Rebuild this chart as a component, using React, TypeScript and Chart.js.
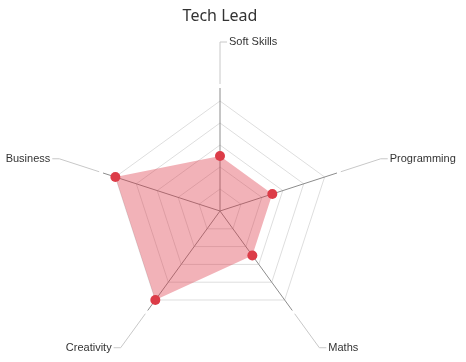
import React, { useEffect, useRef } from "react";
import { Chart, registerables } from "chart.js";
Chart.register(...registerables);

const TITLE = "Tech Lead";
const categories = ["Soft Skills", "Programming", "Maths", "Creativity", "Business"];
const values = [5, 5, 5, 10, 10];
const scaleMax = 10;
const scaleStep = 2;

const radarDecor = {
  id: "radarDecor",
  beforeDatasetsDraw(chart: any) {
    const scale = chart.scales.r;
    const ctx = chart.ctx;
    const n = chart.data.labels.length;
    const outer = scale.drawingArea + 13;
    ctx.save();
    ctx.strokeStyle = "#8c8c8c";
    ctx.lineWidth = 1;
    for (let i = 0; i < n; i++) {
      const p = scale.getPointPosition(i, outer);
      ctx.beginPath();
      ctx.moveTo(scale.xCenter, scale.yCenter);
      ctx.lineTo(p.x, p.y);
      ctx.stroke();
    }
    ctx.restore();
  },
  afterDraw(chart: any) {
    const scale = chart.scales.r;
    const ctx = chart.ctx;
    const labels: string[] = chart.data.labels;
    const r0 = scale.drawingArea + 17;
    const r1 = scale.drawingArea + 59;
    ctx.save();
    ctx.strokeStyle = "#c8c8c8";
    ctx.lineWidth = 1;
    ctx.font = "11px Arial, 'Liberation Sans', sans-serif";
    ctx.fillStyle = "#333";
    ctx.textBaseline = "middle";
    labels.forEach((lab, i) => {
      const a = scale.getPointPosition(i, r0);
      const b = scale.getPointPosition(i, r1);
      const dir = b.x >= scale.xCenter - 0.5 ? 1 : -1;
      const c = { x: b.x + dir * 7, y: b.y };
      ctx.beginPath();
      ctx.moveTo(a.x, a.y);
      ctx.lineTo(b.x, b.y);
      ctx.lineTo(c.x, c.y);
      ctx.stroke();
      ctx.textAlign = dir > 0 ? "left" : "right";
      ctx.fillText(lab, c.x + dir * 2, c.y);
    });
    ctx.font = "16px 'Noto Sans', sans-serif";
    ctx.fillStyle = "#333";
    ctx.textAlign = "center";
    ctx.textBaseline = "middle";
    ctx.fillText(TITLE, 220, 16);
    ctx.restore();
  },
};

export default function App() {
  const ref = useRef<HTMLCanvasElement>(null);
  useEffect(() => {
    if (!ref.current) return;
    const chart = new Chart(ref.current, {
      type: "radar",
      data: {
        labels: categories,
        datasets: [
          {
            label: TITLE,
            data: values,
            fill: true,
            backgroundColor: "rgba(220,53,69,0.38)",
            borderColor: "transparent",
            borderWidth: 0,
            pointRadius: 5,
            pointBackgroundColor: "rgb(220,60,72)",
            pointBorderColor: "transparent",
            pointBorderWidth: 0,
          },
        ],
      },
      options: {
        animation: false,
        responsive: false,
        layout: { padding: { left: 110, right: 136, top: 101, bottom: 41 } },
        plugins: {
          legend: { display: false },
          tooltip: { enabled: false },
          title: { display: false },
        },
        scales: {
          r: {
            min: 0,
            max: scaleMax,
            ticks: { display: false, stepSize: scaleStep },
            grid: { color: "#dedede", lineWidth: 1 },
            angleLines: { display: false },
            pointLabels: { display: false },
          },
        },
      },
      plugins: [radarDecor],
    });
    return () => chart.destroy();
  }, []);
  return (
    <div style={{ position: "absolute", left: 0, top: 0, width: 466, height: 362 }}>
      <canvas ref={ref} width={466} height={362} style={{ display: "block" }} />
    </div>
  );
}
